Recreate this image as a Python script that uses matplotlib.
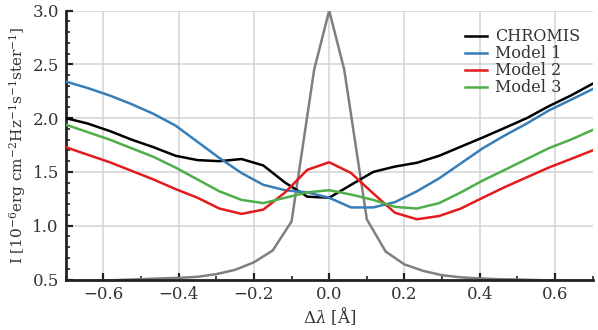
import matplotlib
matplotlib.use("Agg")
import matplotlib.pyplot as plt
from matplotlib.ticker import MultipleLocator

plt.rcParams['font.family'] = ['DejaVu Serif']
plt.rcParams['mathtext.fontset'] = 'dejavuserif'

# Wavelength grid of the synthetic/observed profiles
wav = [-0.700, -0.642, -0.583, -0.525, -0.467, -0.408, -0.350, -0.292, -0.233,
       -0.175, -0.117, -0.058, 0.000, 0.058, 0.117, 0.175, 0.233, 0.292, 0.350,
       0.408, 0.467, 0.525, 0.583, 0.642, 0.700]

chromis = [2.00, 1.95, 1.88, 1.80, 1.73, 1.65, 1.61, 1.60, 1.62, 1.56, 1.40, 1.27,
           1.26, 1.38, 1.50, 1.55, 1.585, 1.65, 1.735, 1.82, 1.91, 2.00, 2.11, 2.21, 2.32]
model1 = [2.34, 2.28, 2.21, 2.13, 2.04, 1.93, 1.78, 1.63, 1.49, 1.38, 1.33, 1.31,
          1.26, 1.17, 1.17, 1.22, 1.32, 1.44, 1.58, 1.72, 1.84, 1.95, 2.07, 2.17, 2.27]
model2 = [1.73, 1.66, 1.59, 1.51, 1.43, 1.34, 1.26, 1.16, 1.11, 1.15, 1.31, 1.52,
          1.59, 1.49, 1.30, 1.12, 1.06, 1.09, 1.16, 1.26, 1.36, 1.45, 1.54, 1.62, 1.70]
model3 = [1.94, 1.87, 1.80, 1.72, 1.64, 1.54, 1.43, 1.32, 1.24, 1.21, 1.26, 1.31,
          1.33, 1.29, 1.24, 1.175, 1.16, 1.21, 1.31, 1.42, 1.52, 1.62, 1.72, 1.80, 1.89]

# Instrument transmission profile (grey)
filt_wav = [-0.70, -0.60, -0.50, -0.45, -0.40, -0.35, -0.30, -0.25, -0.20, -0.15,
            -0.10, -0.04, 0.00, 0.04, 0.10, 0.15, 0.20, 0.25, 0.30, 0.35, 0.40,
            0.45, 0.50, 0.60, 0.70]
filt = [0.47, 0.49, 0.503, 0.51, 0.515, 0.525, 0.55, 0.59, 0.66, 0.77,
        1.04, 2.45, 3.00, 2.45, 1.06, 0.76, 0.64, 0.58, 0.54, 0.52, 0.51,
        0.503, 0.50, 0.49, 0.47]

labels = ['CHROMIS', 'Model 1', 'Model 2', 'Model 3']
colors = ['#000000', '#377eb8', '#e41a1c', '#4daf4a']

fig = plt.figure(figsize=(5.98, 3.30), dpi=100)
ax = fig.add_axes([0.110, 0.153, 0.881, 0.815])

lw = 1.8
ax.plot(filt_wav, filt, color='#7f7f7f', lw=lw, zorder=2)
for y, lab, c in zip([chromis, model1, model2, model3], labels, colors):
    ax.plot(wav, y, color=c, lw=lw, label=lab, zorder=3)

ax.set_xlim(-0.7, 0.7)
ax.set_ylim(0.5, 3.0)
ax.xaxis.set_major_locator(MultipleLocator(0.2))
ax.xaxis.set_minor_locator(MultipleLocator(0.1))
ax.yaxis.set_major_locator(MultipleLocator(0.5))
ax.yaxis.set_minor_locator(MultipleLocator(0.1))

ax.grid(True, which='major', color='#d3d3d3', lw=1.1, zorder=0)
ax.set_axisbelow(True)
for s in ['top', 'right']:
    ax.spines[s].set_visible(False)
for s in ['left', 'bottom']:
    ax.spines[s].set_linewidth(2.0)
    ax.spines[s].set_color('#222222')

ax.tick_params(which='major', direction='in', length=5, width=1.6, colors='#222222',
               labelsize=12, labelcolor='#333333', pad=5)
ax.tick_params(which='minor', direction='in', length=3, width=1.2, colors='#222222')

ax.set_xlabel(r'$\Delta\lambda$ [Å]', fontsize=12, color='#333333', labelpad=1)
ax.set_ylabel(r'I [10$^{-6}$erg cm$^{-2}$Hz$^{-1}$s$^{-1}$ster$^{-1}$]',
              fontsize=11, color='#333333', labelpad=3)

leg = ax.legend(loc='upper right', bbox_to_anchor=(0.995, 0.97), frameon=False,
                fontsize=11.5, handlelength=1.4, handletextpad=0.5,
                labelspacing=0.0, borderaxespad=0.2)
for t in leg.get_texts():
    t.set_color('#333333')

fig.savefig('out.png', dpi=100)
